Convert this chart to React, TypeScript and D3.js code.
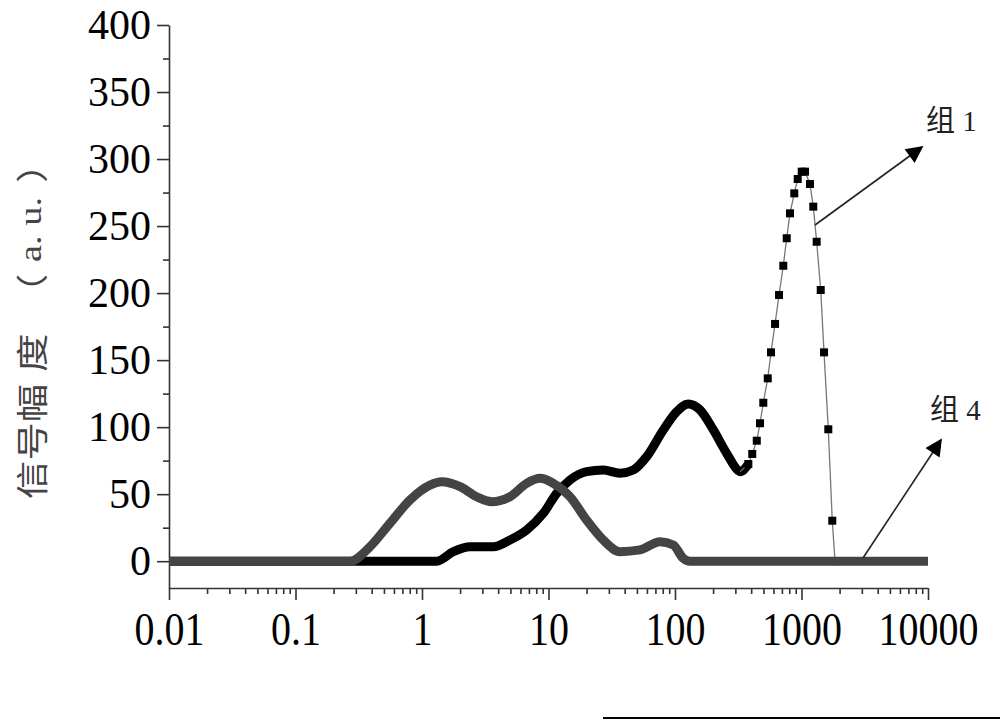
import React, { useRef, useEffect } from "react";
import { select, scaleLog, scaleLinear, axisBottom, axisLeft, line, curveMonotoneX } from "d3";

// 组 1 : size (x) and signal (y)
const size1 = [
  0.01, 1.31, 1.77, 2.4, 3.66, 4.96, 6.72, 9.1, 11.6, 14.8, 20, 27.1, 36.7, 46.8, 59.7, 80.8,
  103, 127, 158, 201, 256, 317, 327,
  380, 408, 443, 470, 499, 541, 574, 618, 664, 718, 764, 811, 877, 933, 1004, 1066, 1167,
  1239, 1318, 1419, 1507, 1629, 1751, 1841,
];
const signal1 = [
  0, 0, 7.1, 10.8, 10.8, 15.8, 23.3, 35.7, 50.6, 60.6, 66.8, 68, 65.6, 68, 78, 97.9,
  111.5, 117.3, 112.8, 97.9, 80.5, 67.5, 66.8,
  72.5, 80, 89.9, 102.9, 118.2, 136.4, 155.8, 177, 198.6, 220.4, 240.9, 259.5, 274.4, 285.1,
  290.6, 290.6, 281.4, 264.5, 238.3, 202.3, 155.8, 98.4, 30.2, 0,
];

// 组 4
const size4 = [
  0.01, 0.27, 0.388, 0.558, 0.803, 1.157, 1.43, 2.0, 2.7, 3.56, 4.96, 6.72, 8.57, 10.9,
  14.8, 20, 27.1, 36.7, 52.8, 76, 97, 116, 131, 10000,
];
const signal4 = [
  0, 0, 10.8, 28.3, 45.7, 56.8, 59.3, 55.6, 48.1, 44.4, 48.1, 58.1, 61.8, 58.1,
  48.1, 30.7, 15.8, 7.1, 8.4, 14.5, 12.1, 2.2, 0, 0,
];

const yTicks = [0, 50, 100, 150, 200, 250, 300, 350, 400];
const yMinorTicks = [25, 75, 125, 175, 225, 275, 325, 375];
const xTicks = [0.01, 0.1, 1, 10, 100, 1000, 10000];
const xTickLabels = ["0.01", "0.1", "1", "10", "100", "1000", "10000"];

const SERIF = "'Liberation Serif', 'Times New Roman', serif";
const CJK = "'Noto Sans CJK SC', sans-serif";

function App() {
  const svgRef = useRef(null);

  useEffect(() => {
    const svg = select(svgRef.current);
    svg.selectAll("*").remove();

    const x = scaleLog().domain([0.01, 10000]).range([169, 928]);
    const y = scaleLinear().domain([-20, 400]).range([588, 25]);

    //y axis
    const gy = svg
      .append("g")
      .attr("transform", "translate(169,0)")
      .call(axisLeft(y).tickValues(yTicks).tickSize(12).tickSizeOuter(0).tickPadding(6));
    gy.selectAll("text").attr("font-family", SERIF).attr("font-size", 42).attr("fill", "#000");
    const gyMinor = svg
      .append("g")
      .attr("transform", "translate(169,0)")
      .call(axisLeft(y).tickValues(yMinorTicks).tickSize(6).tickSizeOuter(0).tickFormat(() => ""));
    gyMinor.select(".domain").remove();

    //x axis
    const gx = svg
      .append("g")
      .attr("transform", "translate(0,588)")
      .call(
        axisBottom(x)
          .tickValues(xTicks)
          .tickSize(12)
          .tickSizeOuter(0)
          .tickPadding(12)
          .tickFormat((d, i) => xTickLabels[i])
      );
    gx.selectAll("text")
      .attr("font-family", SERIF)
      .attr("font-size", 47)
      .attr("fill", "#000")
      .attr("transform", "scale(0.85,1)");
    const minorX = x.ticks().filter((t) => !xTicks.some((m) => Math.abs(m - t) / m < 1e-6));
    const gxMinor = svg
      .append("g")
      .attr("transform", "translate(0,588)")
      .call(axisBottom(x).tickValues(minorX).tickSize(6).tickSizeOuter(0).tickFormat(() => ""));
    gxMinor.select(".domain").remove();

    svg.selectAll(".domain").attr("stroke", "#333").attr("stroke-width", 1.6);
    svg.selectAll(".tick line").attr("stroke", "#333").attr("stroke-width", 1.6);

    //series 组1
    const pts1 = size1.map((s, i) => [s, signal1[i]] as [number, number]);
    const band1 = pts1.filter((d) => d[0] <= 380);
    const sparse1 = pts1.filter((d) => d[0] >= 327);

    const smooth = line<[number, number]>()
      .x((d) => x(d[0]))
      .y((d) => y(d[1]))
      .curve(curveMonotoneX);
    const straight = line<[number, number]>()
      .x((d) => x(d[0]))
      .y((d) => y(d[1]));

    svg
      .append("path")
      .datum(band1)
      .attr("d", smooth)
      .attr("fill", "none")
      .attr("stroke", "#000")
      .attr("stroke-width", 9)
      .attr("stroke-linejoin", "round");

    svg
      .append("path")
      .datum(sparse1)
      .attr("d", straight)
      .attr("fill", "none")
      .attr("stroke", "#777")
      .attr("stroke-width", 1.3);

    svg
      .append("g")
      .selectAll("rect")
      .data(sparse1.slice(1))
      .join("rect")
      .attr("x", (d) => x(d[0]) - 4)
      .attr("y", (d) => y(d[1]) - 4)
      .attr("width", 8)
      .attr("height", 8)
      .attr("fill", "#000");

    //series 组4
    const pts4 = size4.map((s, i) => [s, signal4[i]] as [number, number]);
    svg
      .append("path")
      .datum(pts4)
      .attr("d", smooth)
      .attr("fill", "none")
      .attr("stroke", "#444")
      .attr("stroke-width", 9)
      .attr("stroke-linejoin", "round");

    //y axis title
    const scaleAlong = 1.2;
    const title = svg
      .append("text")
      .attr("transform", `translate(30,0) rotate(-90) scale(${scaleAlong},1)`)
      .attr("font-size", 32)
      .attr("fill", "#444")
      .attr("dominant-baseline", "central");
    const parts: [string, number, string][] = [
      ["信号幅", 499, CJK],
      ["度", 372, CJK],
      ["（", 312, CJK],
      ["a. u.", 262, SERIF],
      ["）", 183, CJK],
    ];
    parts.forEach(([t, pos, f]) => {
      title.append("tspan").attr("x", -pos / scaleAlong).attr("font-family", f).text(t);
    });

    //annotations
    const defs = svg.append("defs");
    defs
      .append("marker")
      .attr("id", "arrowhead")
      .attr("viewBox", "0 0 10 10")
      .attr("refX", 9)
      .attr("refY", 5)
      .attr("markerWidth", 20)
      .attr("markerHeight", 17)
      .attr("markerUnits", "userSpaceOnUse")
      .attr("orient", "auto")
      .append("path")
      .attr("d", "M0,0 L10,5 L0,10 Z")
      .attr("fill", "#000");

    const arrows = [
      { x1: 815, y1: 225, x2: 922, y2: 147 },
      { x1: 863, y1: 558, x2: 941, y2: 440 },
    ];
    svg
      .append("g")
      .selectAll("line")
      .data(arrows)
      .join("line")
      .attr("x1", (d) => d.x1)
      .attr("y1", (d) => d.y1)
      .attr("x2", (d) => d.x2)
      .attr("y2", (d) => d.y2)
      .attr("stroke", "#222")
      .attr("stroke-width", 1.6)
      .attr("marker-end", "url(#arrowhead)");

    const notes = [
      { text: "组 1", x: 926, y: 131 },
      { text: "组 4", x: 930, y: 420 },
    ];
    svg
      .append("g")
      .selectAll("text")
      .data(notes)
      .join("text")
      .attr("x", (d) => d.x)
      .attr("y", (d) => d.y)
      .attr("font-family", `${SERIF}, ${CJK}`)
      .attr("font-size", 29)
      .attr("fill", "#222")
      .text((d) => d.text);

    //bottom edge rule
    svg
      .append("line")
      .attr("x1", 603)
      .attr("x2", 1000)
      .attr("y1", 718)
      .attr("y2", 718)
      .attr("stroke", "#000")
      .attr("stroke-width", 2);
  }, []);

  return (
    <svg
      ref={svgRef}
      width={1000}
      height={723}
      style={{ position: "absolute", left: 0, top: 0, background: "#fff" }}
    ></svg>
  );
}

export default App;
